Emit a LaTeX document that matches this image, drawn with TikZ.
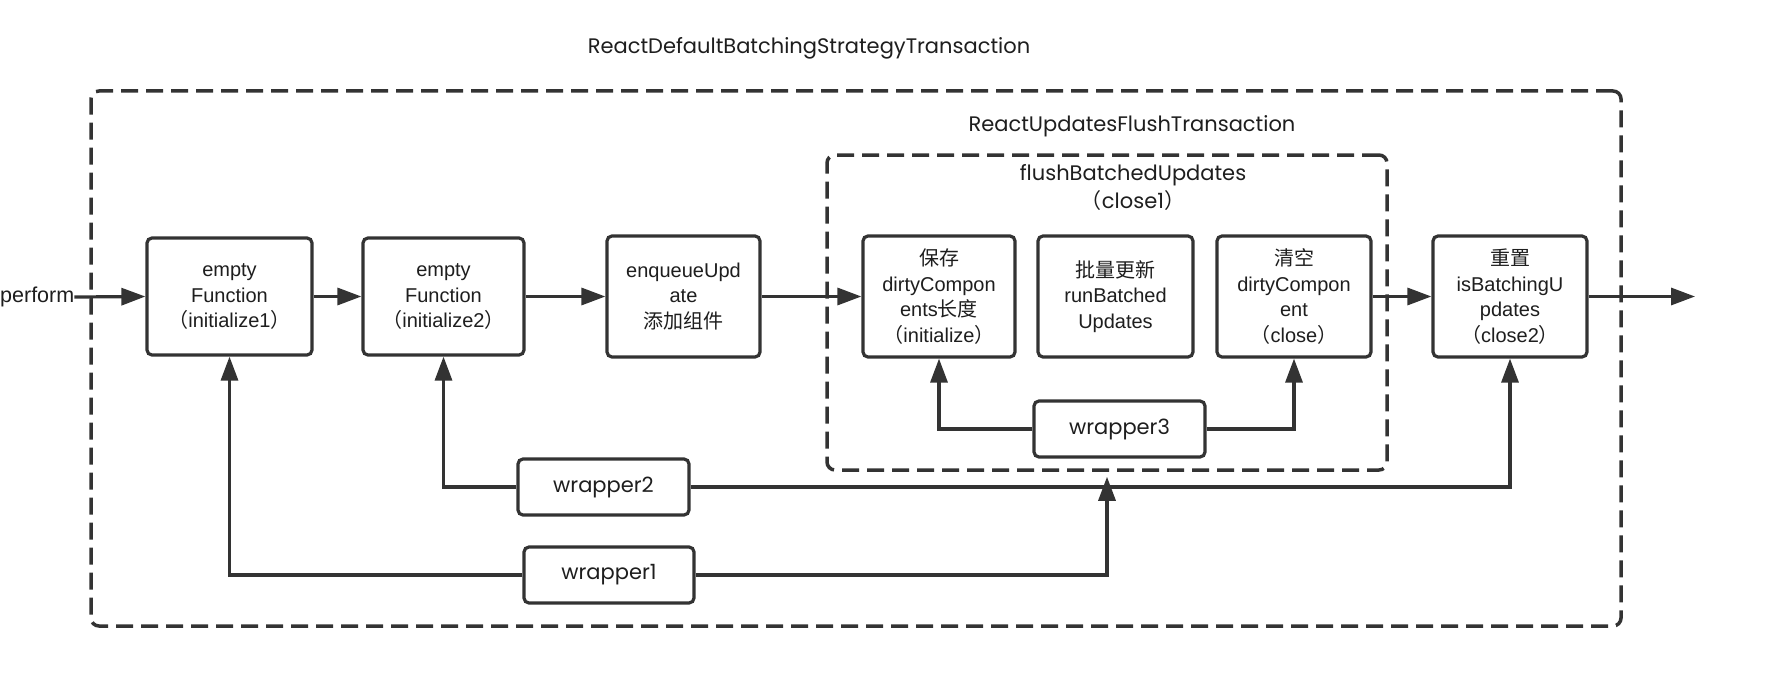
\documentclass[tikz,border=0pt]{standalone}
\usepackage{fontspec}
\setmainfont{Liberation Sans}
\newfontfamily\cjk{Noto Sans CJK SC}
\newfontfamily\geo{Poppins}
\usetikzlibrary{arrows.meta}
\definecolor{lc}{HTML}{333333}
\definecolor{tc}{HTML}{1E1E1E}
\begin{document}
\begin{tikzpicture}[x=1pt,y=-1pt,
  box/.style={draw=lc, line width=3.2pt, rounded corners=5pt, fill=white, align=center, inner sep=0pt, font=\fontsize{20}{25.5}\selectfont, text=tc},
  wbox/.style={box, font=\geo\fontsize{21}{24}\selectfont, minimum height=56pt},
  frame/.style={draw=lc, line width=3.5pt, dash pattern=on 17pt off 8pt, rounded corners=8pt, inner sep=0pt},
  conn/.style={draw=lc, line width=3.2pt},
  arr/.style={conn, -{Triangle[length=24pt,width=17pt]}},
  lbl/.style={font=\geo\fontsize{21}{28}\selectfont, text=tc, align=center, inner sep=0pt}
]
\fill[white] (0,0) rectangle (1766,690);
\useasboundingbox (0,0) rectangle (1766,690);

% frames
\node[frame, minimum width=1530pt, minimum height=535pt] (outer) at (856,358.5) {};
\node[frame, minimum width=560pt, minimum height=315pt] (inner) at (1107,312.5) {};

% labels
\node[lbl] (t1) at (809,48) {ReactDefaultBatchingStrategyTransaction};
\node[lbl] (t2) at (1132,126) {ReactUpdatesFlushTransaction};
\node[lbl] (t3) at (1133,187) {flushBatchedUpdates\\{\cjk （}close1{\cjk ）}};
\node[anchor=west, inner sep=0pt, font=\fontsize{21.5}{25}\selectfont, text=tc] (perf) at (0,297) {perform};
\coordinate (endpt) at (1695,296.5);

% boxes
\node[box, minimum width=165pt, minimum height=117pt] (b1) at (229.5,296.5) {empty\\Function\\{\cjk （}initialize1{\cjk ）}};
\node[box, minimum width=161pt, minimum height=117pt] (b2) at (443.5,296.5) {empty\\Function\\{\cjk （}initialize2{\cjk ）}};
\node[box, minimum width=153pt, minimum height=121pt] (b3) at (683.5,296.5) {enqueueUpd\\ate\\{\cjk 添加组件}};
\node[box, minimum width=152pt, minimum height=121pt] (b4) at (939,296.5) {{\cjk 保存}\\dirtyCompon\\ents{\cjk 长度}\\{\cjk （}initialize{\cjk ）}};
\node[box, minimum width=155pt, minimum height=121pt] (b5) at (1115.5,296.5) {{\cjk 批量更新}\\runBatched\\Updates};
\node[box, minimum width=154pt, minimum height=121pt] (b6) at (1294,296.5) {{\cjk 清空}\\dirtyCompon\\ent\\{\cjk （}close{\cjk ）}};
\node[box, minimum width=154pt, minimum height=121pt] (b7) at (1510,296.5) {{\cjk 重置}\\isBatchingU\\pdates\\{\cjk （}close2{\cjk ）}};

% wrappers
\node[wbox, minimum width=171pt] (w3) at (1119.5,429) {wrapper3};
\node[wbox, minimum width=171pt] (w2) at (603.5,487) {wrapper2};
\node[wbox, minimum width=170pt] (w1) at (609,575) {wrapper1};

% main flow
\draw[arr] (perf.east) -- (b1.west);
\draw[arr] (b1.east) -- (b2.west);
\draw[arr] (b2.east) -- (b3.west);
\draw[arr] (b3.east) -- (b4.west);
\draw[arr] (b6.east) -- (b7.west);
\draw[arr] (b7.east) -- (endpt);

% wrapper connectors
\draw[arr] (w3.west) -| (b4.south);
\draw[arr] (w3.east) -| (b6.south);
\draw[arr] (w2.west) -| (b2.south);
\draw[arr] (w2.east) -| (b7.south);
\draw[arr] (w1.west) -| (b1.south);
\draw[arr] (w1.east) -| ([yshift=-5pt]inner.south);
\end{tikzpicture}
\end{document}
